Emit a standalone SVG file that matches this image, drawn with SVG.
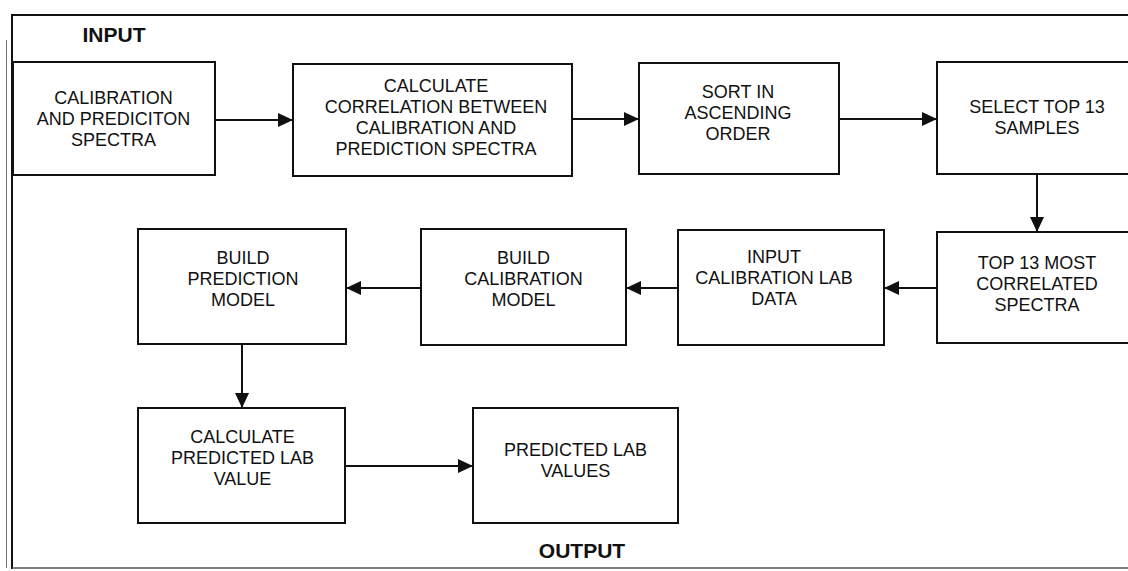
<svg xmlns="http://www.w3.org/2000/svg" width="1128" height="571" viewBox="0 0 1128 571">
<style>
.box{fill:#fff;stroke:#111;stroke-width:2}
.t{font-family:"Liberation Sans",Arial,sans-serif;font-size:18px;fill:#111;text-anchor:middle}
.h{font-family:"Liberation Sans",Arial,sans-serif;font-size:21px;font-weight:bold;fill:#111;text-anchor:middle}
.c{stroke:#111;stroke-width:2;fill:none;marker-end:url(#ah)}
.frame{stroke:#111;stroke-width:2;fill:none}
</style>
<defs>
<marker id="ah" markerUnits="userSpaceOnUse" markerWidth="16" markerHeight="15" refX="15" refY="7" orient="auto">
<path d="M0,0 L15,7 L0,14 z" fill="#111"/>
</marker>
</defs>
<rect x="0" y="0" width="1128" height="571" fill="#fff"/>
<g id="frame">
<line x1="6.5" y1="40" x2="6.5" y2="568" stroke="#777" stroke-width="1"/>
<line class="frame" x1="12" y1="15" x2="12" y2="569"/>
<line class="frame" x1="11" y1="15" x2="1128" y2="15"/>
<line x1="12" y1="568" x2="1128" y2="568" stroke="#555" stroke-width="1.5"/>
</g>
<g id="label-input"><text class="h" x="114" y="42">INPUT</text></g>
<g id="label-output"><text class="h" x="582" y="558">OUTPUT</text></g>
<g id="connectors">
<line class="c" x1="215" y1="120" x2="293" y2="120"/>
<line class="c" x1="572" y1="119" x2="639" y2="119"/>
<line class="c" x1="839" y1="119" x2="937" y2="119"/>
<line class="c" x1="1037" y1="174" x2="1037" y2="232"/>
<line class="c" x1="937" y1="288" x2="884" y2="288"/>
<line class="c" x1="678" y1="288" x2="626" y2="288"/>
<line class="c" x1="421" y1="288" x2="346" y2="288"/>
<line class="c" x1="242" y1="344" x2="242" y2="408"/>
<line class="c" x1="345" y1="466" x2="473" y2="466"/>
</g>
<g id="n1"><rect class="box" x="13" y="62" width="202" height="113"/>
<text class="t" x="113.5" y="104">CALIBRATION</text><text class="t" x="113.5" y="125">AND PREDICITON</text><text class="t" x="113.5" y="146">SPECTRA</text></g>
<g id="n2"><rect class="box" x="293" y="64" width="279" height="112"/>
<text class="t" x="436" y="92">CALCULATE</text><text class="t" x="436" y="113">CORRELATION BETWEEN</text><text class="t" x="436" y="134">CALIBRATION AND</text><text class="t" x="436" y="155">PREDICTION SPECTRA</text></g>
<g id="n3"><rect class="box" x="639" y="63" width="200" height="111"/>
<text class="t" x="738" y="98">SORT IN</text><text class="t" x="738" y="119">ASCENDING</text><text class="t" x="738" y="140">ORDER</text></g>
<g id="n4"><rect class="box" x="937" y="62" width="205" height="112"/>
<text class="t" x="1037" y="113">SELECT TOP 13</text><text class="t" x="1037" y="134">SAMPLES</text></g>
<g id="n5"><rect class="box" x="937" y="232" width="205" height="111"/>
<text class="t" x="1037" y="269">TOP 13 MOST</text><text class="t" x="1037" y="290">CORRELATED</text><text class="t" x="1037" y="311">SPECTRA</text></g>
<g id="n6"><rect class="box" x="678" y="230" width="206" height="115"/>
<text class="t" x="774" y="263">INPUT</text><text class="t" x="774" y="284">CALIBRATION LAB</text><text class="t" x="774" y="305">DATA</text></g>
<g id="n7"><rect class="box" x="421" y="229" width="205" height="116"/>
<text class="t" x="523.5" y="264">BUILD</text><text class="t" x="523.5" y="285">CALIBRATION</text><text class="t" x="523.5" y="306">MODEL</text></g>
<g id="n8"><rect class="box" x="138" y="229" width="208" height="115"/>
<text class="t" x="243" y="264">BUILD</text><text class="t" x="243" y="285">PREDICTION</text><text class="t" x="243" y="306">MODEL</text></g>
<g id="n9"><rect class="box" x="138" y="408" width="207" height="115"/>
<text class="t" x="242.5" y="443">CALCULATE</text><text class="t" x="242.5" y="464">PREDICTED LAB</text><text class="t" x="242.5" y="485">VALUE</text></g>
<g id="n10"><rect class="box" x="473" y="408" width="205" height="115"/>
<text class="t" x="575.5" y="456">PREDICTED LAB</text><text class="t" x="575.5" y="477">VALUES</text></g>
</svg>
